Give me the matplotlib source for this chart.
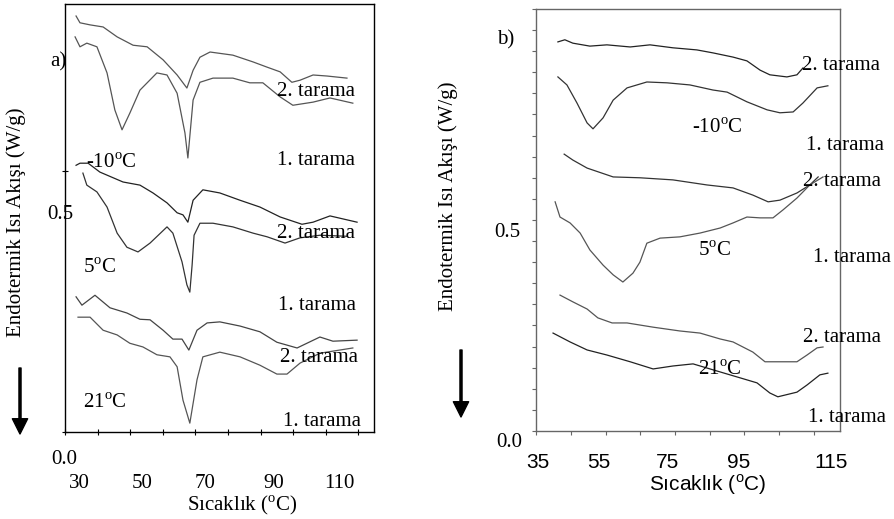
import matplotlib
matplotlib.use('Agg')
import matplotlib.pyplot as plt
from matplotlib.figure import Figure
from matplotlib.axes import Axes
from matplotlib.transforms import ScaledTranslation

# a) panel: sicaklik (C) ve isi akisi (W/g) okunan degerler
a_10_2_t = [33.4, 34.6, 37.7, 41.7, 46.0, 50.9, 55.2, 60.1, 64.4, 67.4, 69.3, 71.4, 74.5, 81.5, 87.7, 92.0, 96.0, 99.6, 102.1, 106.1, 110.4, 116.5]
a_10_2_w = [0.797, 0.784, 0.780, 0.776, 0.757, 0.741, 0.738, 0.713, 0.684, 0.659, 0.693, 0.718, 0.728, 0.722, 0.709, 0.699, 0.690, 0.670, 0.674, 0.684, 0.682, 0.678]
a_10_1_t = [33.1, 34.6, 36.7, 39.8, 42.9, 45.3, 47.5, 49.9, 53.0, 58.2, 61.3, 64.4, 66.8, 67.7, 69.3, 71.4, 75.4, 81.5, 86.7, 90.7, 96.0, 99.9, 106.1, 111.3, 118.3]
a_10_1_w = [0.757, 0.738, 0.745, 0.738, 0.688, 0.617, 0.579, 0.611, 0.655, 0.688, 0.684, 0.649, 0.573, 0.525, 0.636, 0.670, 0.678, 0.678, 0.669, 0.669, 0.642, 0.626, 0.632, 0.640, 0.630]
a_5_2_t = [33.4, 34.6, 37.1, 40.7, 47.8, 53.0, 57.0, 61.3, 64.4, 66.2, 67.7, 69.3, 72.3, 77.5, 83.7, 89.8, 96.0, 102.7, 106.1, 111.3, 119.6]
a_5_2_w = [0.511, 0.515, 0.515, 0.498, 0.479, 0.473, 0.458, 0.439, 0.420, 0.416, 0.402, 0.444, 0.464, 0.458, 0.444, 0.431, 0.412, 0.398, 0.402, 0.414, 0.402]
a_5_1_t = [35.5, 36.7, 39.8, 42.9, 46.0, 49.0, 52.4, 56.1, 61.3, 63.1, 65.9, 67.4, 68.3, 69.0, 69.6, 71.4, 75.4, 81.5, 87.7, 92.0, 97.5, 102.1, 108.2, 116.5]
a_5_1_w = [0.496, 0.473, 0.460, 0.431, 0.381, 0.354, 0.345, 0.362, 0.393, 0.381, 0.326, 0.282, 0.268, 0.320, 0.377, 0.400, 0.400, 0.393, 0.381, 0.374, 0.362, 0.372, 0.377, 0.375]
a_21_2_t = [33.4, 35.2, 39.2, 43.8, 49.0, 53.0, 56.1, 60.1, 63.1, 65.9, 68.0, 70.5, 73.6, 77.5, 83.7, 89.8, 95.0, 101.2, 104.2, 108.2, 112.2, 119.6]
a_21_2_w = [0.259, 0.243, 0.262, 0.238, 0.228, 0.216, 0.215, 0.195, 0.178, 0.178, 0.157, 0.195, 0.209, 0.211, 0.203, 0.192, 0.172, 0.161, 0.170, 0.182, 0.174, 0.176]
a_21_1_t = [34.0, 37.7, 41.7, 46.0, 49.9, 53.9, 58.2, 62.2, 64.4, 66.2, 68.3, 70.5, 72.3, 77.5, 83.7, 89.8, 95.0, 98.1, 102.1, 108.2, 118.3]
a_21_1_w = [0.220, 0.220, 0.195, 0.186, 0.170, 0.163, 0.148, 0.144, 0.125, 0.061, 0.017, 0.100, 0.144, 0.153, 0.144, 0.128, 0.111, 0.111, 0.132, 0.151, 0.161]

# b) panel
b_10_2_t = [41.3, 43.3, 45.6, 50.5, 55.4, 62.1, 67.8, 74.4, 81.3, 85.9, 91.7, 95.7, 99.5, 102.3, 107.2, 110.1, 111.8]
b_10_2_w = [0.922, 0.927, 0.919, 0.912, 0.915, 0.910, 0.915, 0.908, 0.903, 0.896, 0.886, 0.877, 0.855, 0.844, 0.839, 0.844, 0.860]
b_10_1_t = [41.3, 43.9, 46.8, 49.7, 51.4, 54.3, 57.2, 61.2, 66.9, 72.7, 79.3, 85.9, 90.0, 95.7, 101.5, 105.2, 109.0, 111.8, 115.9, 119.0]
b_10_1_w = [0.839, 0.820, 0.777, 0.730, 0.716, 0.742, 0.784, 0.813, 0.827, 0.825, 0.820, 0.808, 0.803, 0.780, 0.761, 0.754, 0.756, 0.777, 0.813, 0.818]
b_5_2_t = [43.1, 45.6, 49.7, 57.2, 64.9, 74.4, 84.2, 91.7, 97.4, 101.8, 105.2, 110.1, 113.8, 116.2]
b_5_2_w = [0.656, 0.642, 0.623, 0.602, 0.600, 0.595, 0.583, 0.576, 0.559, 0.543, 0.547, 0.564, 0.583, 0.602]
b_5_1_t = [40.5, 41.9, 44.8, 47.7, 50.5, 54.3, 57.2, 60.0, 62.9, 64.9, 66.9, 70.7, 76.4, 82.2, 88.0, 91.7, 95.7, 99.5, 103.2, 106.1, 110.1, 113.8, 117.6]
b_5_1_w = [0.543, 0.507, 0.493, 0.469, 0.429, 0.393, 0.370, 0.353, 0.374, 0.400, 0.445, 0.457, 0.460, 0.469, 0.481, 0.493, 0.507, 0.505, 0.505, 0.524, 0.552, 0.583, 0.602]
b_21_2_t = [41.9, 45.6, 49.7, 52.8, 56.9, 61.2, 68.7, 76.4, 82.2, 88.0, 91.7, 97.4, 100.9, 110.1, 113.0, 115.9, 117.6]
b_21_2_w = [0.322, 0.306, 0.289, 0.268, 0.256, 0.256, 0.246, 0.237, 0.232, 0.218, 0.211, 0.187, 0.164, 0.164, 0.180, 0.197, 0.199]
b_21_1_t = [39.9, 44.8, 49.7, 55.4, 62.1, 68.7, 74.4, 80.2, 85.9, 93.7, 98.6, 102.3, 104.6, 110.1, 113.0, 116.7, 119.0]
b_21_1_w = [0.232, 0.211, 0.192, 0.180, 0.164, 0.147, 0.154, 0.159, 0.145, 0.126, 0.114, 0.090, 0.081, 0.092, 0.109, 0.133, 0.137]

a_xticks = [30, 50, 70, 90, 110]
b_xticks = [35, 55, 75, 95, 115]
yticks = [0.0, 0.5]

plt.rcParams['font.family'] = ['Liberation Serif', 'DejaVu Serif']
plt.rcParams['font.size'] = 15
plt.rcParams['mathtext.fontset'] = 'custom'
plt.rcParams['mathtext.rm'] = 'Liberation Serif'
plt.rcParams['mathtext.sf'] = 'Liberation Sans'

W, H = 895, 519
fig: Figure = plt.figure(figsize=(8.95, 5.19), dpi=100, facecolor='white')


def shift(label, dx, dy):
    # etiketi piksel cinsinden kaydir
    label.set_transform(label.get_transform() + ScaledTranslation(dx / 100, dy / 100, fig.dpi_scale_trans))


def put(x, y, s, **kw):
    fig.text(x / W, 1 - y / H, s, ha='left', va='center', **kw)


deg = r'$^{\mathrm{o}}$C'

# ---- a) ----
ax1: Axes = fig.add_axes([0.0726, 0.1676, 0.3453, 0.8247])
ax1.plot(a_10_2_t, a_10_2_w, color='#555555', lw=0.9)
ax1.plot(a_10_1_t, a_10_1_w, color='#555555', lw=0.9)
ax1.plot(a_5_2_t, a_5_2_w, color='#222222', lw=0.9)
ax1.plot(a_5_1_t, a_5_1_w, color='#333333', lw=0.9)
ax1.plot(a_21_2_t, a_21_2_w, color='#444444', lw=0.9)
ax1.plot(a_21_1_t, a_21_1_w, color='#555555', lw=0.9)
ax1.set_xlim(30, 124.8)
ax1.set_ylim(0, 0.82)
ax1.set_xticks(a_xticks, [str(v) for v in a_xticks])
ax1.set_xticks([40, 60, 80, 100, 120], minor=True)
ax1.set_yticks(yticks, ['0.0', '0.5'])
ax1.tick_params(which='both', direction='inout', length=4, width=0.8)
for lab, dx in zip(ax1.get_xticklabels(), [14, 12, 10, 13, 14]):
    shift(lab, dx, -34)
for lab, dx, dy in zip(ax1.get_yticklabels(), [20, 16], [-25, -41]):
    shift(lab, dx, dy)
for s in ax1.spines.values():
    s.set_linewidth(1)
ax1.set_xlabel('Sıcaklık (' + deg + ')')
ax1.xaxis.label.set_va('center')
ax1.xaxis.set_label_coords(0.573, -0.171)
ax1.set_ylabel('Endotermik Isı Akışı (W/g)')
ax1.yaxis.label.set_va('center')
ax1.yaxis.set_label_coords(-0.158, 0.491)

put(50, 62, 'a)')
put(277, 91, '2. tarama')
put(277, 161, '1. tarama')
put(86, 163, '-10' + deg)
put(277, 233, '2. tarama')
put(83, 268, '5' + deg)
put(278, 305, '1. tarama')
put(280, 358, '2. tarama')
put(83, 403, '21' + deg)
put(283, 422, '1. tarama')

# ---- b) ----
ax2: Axes = fig.add_axes([0.5989, 0.1696, 0.3397, 0.8131])
ax2.plot(b_10_2_t, b_10_2_w, color='#222222', lw=0.9)
ax2.plot(b_10_1_t, b_10_1_w, color='#333333', lw=0.9)
ax2.plot(b_5_2_t, b_5_2_w, color='#333333', lw=0.9)
ax2.plot(b_5_1_t, b_5_1_w, color='#555555', lw=0.9)
ax2.plot(b_21_2_t, b_21_2_w, color='#555555', lw=0.9)
ax2.plot(b_21_1_t, b_21_1_w, color='#222222', lw=0.9)
ax2.set_xlim(35, 122.5)
ax2.set_ylim(0, 1.0)
ax2.set_xticks(b_xticks, [str(v) for v in b_xticks], fontfamily='Liberation Sans')
ax2.set_xticks([45, 65, 85, 105], minor=True)
ax2.set_yticks(yticks, ['0.0', '0.5'])
ax2.set_yticks([i * 0.05 for i in range(1, 21) if i != 10], minor=True)
ax2.tick_params(which='both', direction='out', length=3, width=0.8, color='#666666')
for lab, dx in zip(ax2.get_xticklabels(), [2, -7, -8, -6, 17]):
    shift(lab, dx, -13)
for lab, dx, dy in zip(ax2.get_yticklabels(), [-5, -7], [-9, -10]):
    shift(lab, dx, dy)
for s in ax2.spines.values():
    s.set_color('#666666')
    s.set_linewidth(1)
ax2.set_xlabel(r'Sıcaklık ($^{\mathsf{o}}$C)', fontfamily='Liberation Sans')
ax2.xaxis.label.set_va('center')
ax2.xaxis.set_label_coords(0.566, -0.128)
ax2.set_ylabel('Endotermik Isı Akışı (W/g)')
ax2.yaxis.label.set_va('center')
ax2.yaxis.set_label_coords(-0.289, 0.557)

put(497, 40, 'b)')
put(802, 65, '2. tarama')
put(692, 128, '-10' + deg)
put(806, 145, '1. tarama')
put(803, 181, '2. tarama')
put(698, 251, '5' + deg)
put(813, 257, '1. tarama')
put(803, 337, '2. tarama')
put(698, 370, '21' + deg)
put(808, 418, '1. tarama')

# asagi oklar
arrow = dict(width=1.5, headwidth=11, headlength=11, color='black', shrink=0)
fig.axes[0].annotate('', xy=(20, H - 434), xytext=(20, H - 368), xycoords='figure pixels',
                     textcoords='figure pixels', arrowprops=arrow, annotation_clip=False)
fig.axes[1].annotate('', xy=(461, H - 417), xytext=(461, H - 350), xycoords='figure pixels',
                     textcoords='figure pixels', arrowprops=arrow, annotation_clip=False)

fig.savefig('out.png', dpi=100)
plt.close(fig)
